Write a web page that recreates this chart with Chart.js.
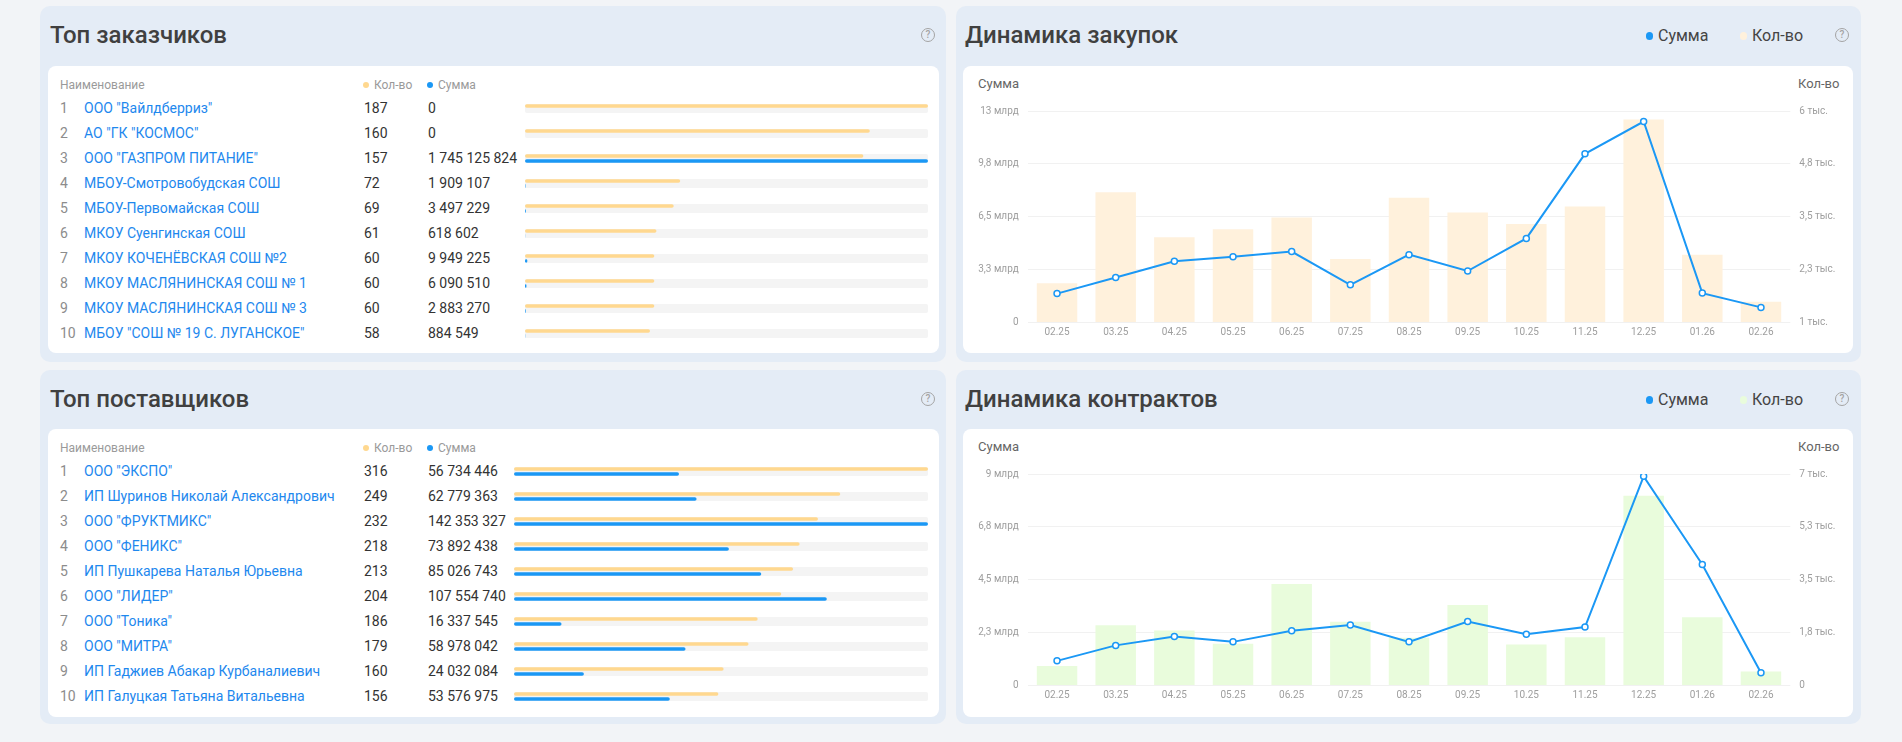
<!DOCTYPE html>
<html lang="ru">
<head>
<meta charset="utf-8">
<title>Дашборд</title>
<script src="https://cdn.jsdelivr.net/npm/chart.js@4.4.1/dist/chart.umd.min.js"></script>
<style>
  body { margin: 0; width: 1902px; height: 742px; background: #f2f4f7; font-family: Roboto, sans-serif; position: relative; overflow: hidden; }
  .panel { position: absolute; background: #e4ecf6; border-radius: 10px; }
  .card { position: absolute; background: #fff; border-radius: 8px; }
  .title { position: absolute; font-size: 24px; font-weight: 500; color: #404040; line-height: 30px; white-space: nowrap; }
  .help { position: absolute; width: 12px; height: 12px; border: 1.5px solid #a4a4a4; border-radius: 50%; color: #a4a4a4; font-size: 10px; line-height: 12px; text-align: center; font-weight: 500; }
  .hdr { position: absolute; font-size: 12px; color: #9a9a9a; line-height: 16px; white-space: nowrap; }
  .dot { position: absolute; border-radius: 50%; }
  .cell { position: absolute; font-size: 14px; line-height: 25px; white-space: nowrap; color: #333; }
  .rank { color: #8c8c8c; }
  .name { color: #1e88ee; }
  .legend { position: absolute; font-size: 16px; color: #444; line-height: 20px; white-space: nowrap; }
  .axis-title { position: absolute; font-size: 13px; color: #666; line-height: 16px; white-space: nowrap; }
  canvas { position: absolute; }
</style>
</head>
<body>

<div class="panel" style="left:40px;top:6px;width:906px;height:356px"></div>
<div class="panel" style="left:956px;top:6px;width:905px;height:356px"></div>
<div class="panel" style="left:40px;top:370px;width:906px;height:354px"></div>
<div class="panel" style="left:956px;top:370px;width:905px;height:354px"></div>

<div class="card" style="left:48px;top:66px;width:891px;height:287px"></div>
<div class="card" style="left:963px;top:66px;width:890px;height:287px"></div>
<div class="card" style="left:48px;top:429px;width:891px;height:288px"></div>
<div class="card" style="left:963px;top:429px;width:890px;height:288px"></div>

<div class="title" style="left:50px;top:20px">Топ заказчиков</div>
<div class="title" style="left:965px;top:20px">Динамика закупок</div>
<div class="title" style="left:50px;top:384px">Топ поставщиков</div>
<div class="title" style="left:965px;top:384px">Динамика контрактов</div>

<div class="help" style="left:921px;top:28px">?</div>
<div class="help" style="left:1835px;top:28px">?</div>
<div class="help" style="left:921px;top:392px">?</div>
<div class="help" style="left:1835px;top:392px">?</div>

<div id="legendTop"></div>
<div id="legendBottom"></div>

<div id="customers"></div>
<div id="suppliers"></div>

<canvas id="customerBars" width="403" height="250" style="left:525px;top:96px"></canvas>
<canvas id="supplierBars" width="414" height="250" style="left:514px;top:459px"></canvas>

<div class="axis-title" style="right:883px;top:76px">Сумма</div>
<div class="axis-title" style="left:1798px;top:76px">Кол-во</div>
<div class="axis-title" style="right:883px;top:439px">Сумма</div>
<div class="axis-title" style="left:1798px;top:439px">Кол-во</div>

<canvas id="purchaseChart" width="890" height="254" style="left:963px;top:96px"></canvas>
<canvas id="contractChart" width="890" height="254" style="left:963px;top:459px"></canvas>

<script>
// --- данные ---
const customerNames = [
  'ООО "Вайлдберриз"', 'АО "ГК "КОСМОС"', 'ООО "ГАЗПРОМ ПИТАНИЕ"', 'МБОУ-Смотровобудская СОШ',
  'МБОУ-Первомайская СОШ', 'МКОУ Суенгинская СОШ', 'МКОУ КОЧЕНЁВСКАЯ СОШ №2',
  'МКОУ МАСЛЯНИНСКАЯ СОШ № 1', 'МКОУ МАСЛЯНИНСКАЯ СОШ № 3', 'МБОУ "СОШ № 19 С. ЛУГАНСКОЕ"'
];
const customerCounts = [187, 160, 157, 72, 69, 61, 60, 60, 60, 58];
const customerSums = [0, 0, 1745125824, 1909107, 3497229, 618602, 9949225, 6090510, 2883270, 884549];

const supplierNames = [
  'ООО "ЭКСПО"', 'ИП Шуринов Николай Александрович', 'ООО "ФРУКТМИКС"', 'ООО "ФЕНИКС"',
  'ИП Пушкарева Наталья Юрьевна', 'ООО "ЛИДЕР"', 'ООО "Тоника"', 'ООО "МИТРА"',
  'ИП Гаджиев Абакар Курбаналиевич', 'ИП Галуцкая Татьяна Витальевна'
];
const supplierCounts = [316, 249, 232, 218, 213, 204, 186, 179, 160, 156];
const supplierSums = [56734446, 62779363, 142353327, 73892438, 85026743, 107554740, 16337545, 58978042, 24032084, 53576975];

const months = ['02.25', '03.25', '04.25', '05.25', '06.25', '07.25', '08.25', '09.25', '10.25', '11.25', '12.25', '01.26', '02.26'];

// Динамика закупок: сумма (млрд) и количество
const purchaseSumBn = [1.75, 2.74, 3.74, 4.02, 4.34, 2.29, 4.15, 3.14, 5.15, 10.36, 12.35, 1.78, 0.9];
const purchaseCounts = [1921, 4077, 3011, 3196, 3475, 2494, 3942, 3592, 3322, 3737, 5800, 2591, 1478];
const purchaseSumTicks = [0, 3.25, 6.5, 9.75, 13];
const purchaseCountTicks = [1000, 2250, 3500, 4750, 6000];

// Динамика контрактов
const contractSumBn = [1.03, 1.69, 2.07, 1.84, 2.31, 2.56, 1.84, 2.71, 2.17, 2.47, 8.9, 5.14, 0.52];
const contractCounts = [630, 1985, 1810, 1370, 3350, 2100, 1567, 2655, 1340, 1585, 6280, 2250, 450];
const contractSumTicks = [0, 2.25, 4.5, 6.75, 9];
const contractCountTicks = [0, 1750, 3500, 5250, 7000];

// --- цвета ---
const BLUE = '#1b98f5';
const TABLE_YELLOW = '#ffd88f';
const TRACK = '#f4f4f4';
const BAR_YELLOW = '#fff1dc';
const BAR_GREEN = '#e9fcdc';
const TICK = '#9e9e9e';

Chart.defaults.font.family = 'Roboto, sans-serif';

function spaced(n) {
  return String(n).replace(/\B(?=(\d{3})+(?!\d))/g, ' ');
}

function shortLabel(v, unit) {
  if (v === 0) return '0';
  return String(Math.round(v * 10) / 10).replace('.', ',') + ' ' + unit;
}

// --- таблицы ---
function buildTable(holderId, headerY, rowY, names, counts, sums) {
  const holder = document.getElementById(holderId);
  let html = '';
  html += `<div class="hdr" style="left:60px;top:${headerY - 8}px">Наименование</div>`;
  html += `<div class="dot" style="left:363px;top:${headerY - 3}px;width:6px;height:6px;background:${TABLE_YELLOW}"></div>`;
  html += `<div class="hdr" style="left:374px;top:${headerY - 8}px">Кол-во</div>`;
  html += `<div class="dot" style="left:427px;top:${headerY - 3}px;width:6px;height:6px;background:${BLUE}"></div>`;
  html += `<div class="hdr" style="left:438px;top:${headerY - 8}px">Сумма</div>`;
  names.forEach((name, i) => {
    const top = rowY + i * 25;
    html += `<div class="cell rank" style="left:60px;top:${top}px">${i + 1}</div>`;
    html += `<div class="cell name" style="left:84px;top:${top}px">${name}</div>`;
    html += `<div class="cell" style="left:364px;top:${top}px">${counts[i]}</div>`;
    html += `<div class="cell" style="left:428px;top:${top}px">${spaced(sums[i])}</div>`;
  });
  holder.innerHTML = html;
}

buildTable('customers', 85, 95.8, customerNames, customerCounts, customerSums);
buildTable('suppliers', 448, 458.8, supplierNames, supplierCounts, supplierSums);

function tableBars(id, counts, sums) {
  const maxCount = Math.max(...counts);
  const maxSum = Math.max(...sums);
  new Chart(document.getElementById(id), {
    type: 'bar',
    data: {
      labels: counts.map((_, i) => i + 1),
      datasets: [
        {
          data: counts, xAxisID: 'x', backgroundColor: TABLE_YELLOW, inflateAmount: 0,
          categoryPercentage: 0.4, barPercentage: 0.7, borderRadius: 2, borderSkipped: false, order: 1,
        },
        {
          data: sums, xAxisID: 'x2', backgroundColor: BLUE, inflateAmount: 0,
          categoryPercentage: 0.4, barPercentage: 0.7, borderRadius: 2, borderSkipped: false, order: 2,
        },
        {
          data: counts.map(() => maxCount), xAxisID: 'x', backgroundColor: TRACK, inflateAmount: 0,
          grouped: false, barThickness: 9, borderRadius: 2, borderSkipped: false, order: 3,
        },
      ],
    },
    options: {
      indexAxis: 'y',
      responsive: false,
      animation: false,
      layout: { padding: 0 },
      plugins: { legend: { display: false }, tooltip: { enabled: false } },
      scales: {
        y: { display: false },
        x: { type: 'linear', axis: 'x', display: false, min: 0, max: maxCount },
        x2: { type: 'linear', axis: 'x', display: false, min: 0, max: maxSum },
      },
    },
  });
}

tableBars('customerBars', customerCounts, customerSums);
tableBars('supplierBars', supplierCounts, supplierSums);

// --- легенды в шапках ---
function buildLegend(holderId, centerY, countColor) {
  document.getElementById(holderId).innerHTML =
    `<div class="dot" style="left:1645.5px;top:${centerY - 3.75}px;width:7.5px;height:7.5px;background:${BLUE}"></div>` +
    `<div class="legend" style="left:1658px;top:${centerY - 10}px">Сумма</div>` +
    `<div class="dot" style="left:1739.5px;top:${centerY - 3.75}px;width:7.5px;height:7.5px;background:${countColor}"></div>` +
    `<div class="legend" style="left:1752px;top:${centerY - 10}px">Кол-во</div>`;
}
buildLegend('legendTop', 36, BAR_YELLOW);
buildLegend('legendBottom', 400, BAR_GREEN);

// --- графики динамики ---
function dynamicsChart(id, sums, counts, sumTicks, countTicks, barColor) {
  new Chart(document.getElementById(id), {
    data: {
      labels: months,
      datasets: [
        {
          type: 'line', label: 'Сумма', data: sums, yAxisID: 'y',
          borderColor: BLUE, borderWidth: 2, tension: 0,
          pointRadius: 3, pointBorderWidth: 1.5, pointBackgroundColor: '#fff', pointBorderColor: BLUE,
          order: 0,
        },
        {
          type: 'bar', label: 'Кол-во', data: counts, yAxisID: 'y1',
          backgroundColor: barColor, categoryPercentage: 1, barPercentage: 0.69,
          base: countTicks[0], order: 1,
        },
      ],
    },
    options: {
      responsive: false,
      animation: false,
      layout: { padding: { top: 10.5, left: 0, right: 0, bottom: 0 } },
      plugins: { legend: { display: false }, tooltip: { enabled: false } },
      scales: {
        x: {
          grid: { display: false, drawTicks: false },
          border: { display: false },
          ticks: { padding: 4.5, color: TICK, font: { size: 10 }, maxRotation: 0, autoSkip: false },
          afterFit: s => { s.height = 28; },
        },
        y: {
          position: 'left',
          min: sumTicks[0], max: sumTicks[sumTicks.length - 1],
          grid: { color: '#f1f1f1', drawTicks: false },
          border: { display: false },
          ticks: {
            stepSize: sumTicks[1] - sumTicks[0], padding: 9, color: TICK, font: { size: 10 },
            callback: v => shortLabel(v, 'млрд'),
          },
          afterFit: s => { s.width = 64.7; },
        },
        y1: {
          position: 'right',
          min: countTicks[0], max: countTicks[countTicks.length - 1],
          grid: { display: false, drawTicks: false },
          border: { display: false },
          ticks: {
            stepSize: countTicks[1] - countTicks[0], padding: 9, color: TICK, font: { size: 10 },
            callback: v => shortLabel(v / 1000, 'тыс.'),
          },
          afterFit: s => { s.width = 62.7; },
        },
      },
    },
  });
}

dynamicsChart('purchaseChart', purchaseSumBn, purchaseCounts, purchaseSumTicks, purchaseCountTicks, BAR_YELLOW);
dynamicsChart('contractChart', contractSumBn, contractCounts, contractSumTicks, contractCountTicks, BAR_GREEN);
</script>
</body>
</html>
